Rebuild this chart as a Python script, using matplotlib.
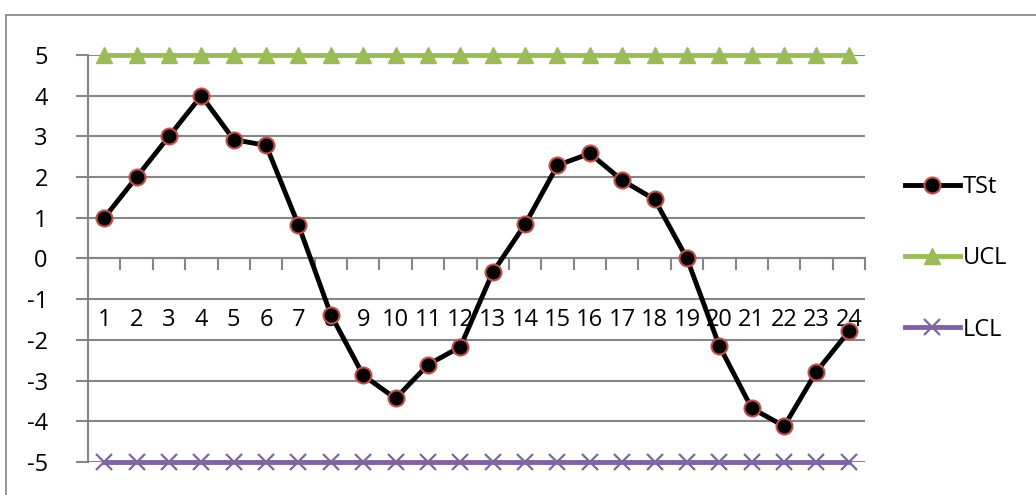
import matplotlib.pyplot as plt
from matplotlib.lines import Line2D

plt.rcParams['font.family'] = ['Open Sans', 'DejaVu Sans']
plt.rcParams['axes.unicode_minus'] = False

periods = list(range(1, 25))
tst = [1.0, 2.0, 3.0, 4.0, 2.92, 2.78, 0.82, -1.38, -2.87, -3.44, -2.61, -2.17,
       -0.34, 0.84, 2.29, 2.58, 1.92, 1.45, 0.0, -2.15, -3.68, -4.12, -2.78, -1.79]
ucl = [5] * 24
lcl = [-5] * 24

grid_col = '#868686'

fig = plt.figure(figsize=(10.36, 4.95), dpi=100)
ax = fig.add_axes([0.085, 0.0667, 0.75, 0.8222])

# chart frame (only top and left edges fall inside the image)
fig.add_artist(Line2D([6/1036, 6/1036], [0, 1 - 15/495], color='#8c8c8c', lw=1.3,
                      transform=fig.transFigure))
fig.add_artist(Line2D([6/1036, 1], [1 - 15/495, 1 - 15/495], color='#8c8c8c', lw=1.3,
                      transform=fig.transFigure))

ax.plot(periods, lcl, color='#8064a2', lw=3.5, marker='x', ms=12, mew=1.6,
        label='LCL', zorder=3, clip_on=False)
ax.plot(periods, ucl, color='#9bbb59', lw=3.5, marker='^', ms=11,
        label='UCL', zorder=3, clip_on=False)
ax.plot(periods, tst, color='black', lw=3.5, marker='o', ms=11.5,
        mfc='black', mec='#c0504d', mew=1.5, label='TSt', zorder=4, clip_on=False)

ax.set_xlim(0.5, 24.5)
ax.set_ylim(-5, 5)
ax.set_yticks(range(-5, 6))
ax.yaxis.grid(True, color=grid_col, lw=1.5)
ax.set_axisbelow(True)

for s in ['top', 'right']:
    ax.spines[s].set_visible(False)
ax.spines['left'].set_color(grid_col)
ax.spines['left'].set_linewidth(1.5)
ax.spines['bottom'].set_position(('data', 0))
ax.spines['bottom'].set_color(grid_col)
ax.spines['bottom'].set_linewidth(1.5)

# tick marks between categories, labels under each category
ax.set_xticks(periods)
ax.set_xticklabels([str(p) for p in periods])
ax.tick_params(axis='x', which='major', length=0, pad=36, labelsize=17)
for x in [p + 0.5 for p in [0] + periods]:
    ax.plot([x, x], [0, -0.27], color=grid_col, lw=1.5, zorder=2, clip_on=False)

ax.tick_params(axis='y', length=9, color=grid_col, width=1.5, pad=20, labelsize=17)

handles, labels = ax.get_legend_handles_labels()
ax.legend(handles[::-1], labels[::-1], loc='center left', bbox_to_anchor=(1.051, 0.5),
          frameon=False, fontsize=17, labelspacing=2.0, handlelength=2.35,
          handletextpad=0.1, borderpad=0, borderaxespad=0)

fig.savefig('out.png', dpi=100)
